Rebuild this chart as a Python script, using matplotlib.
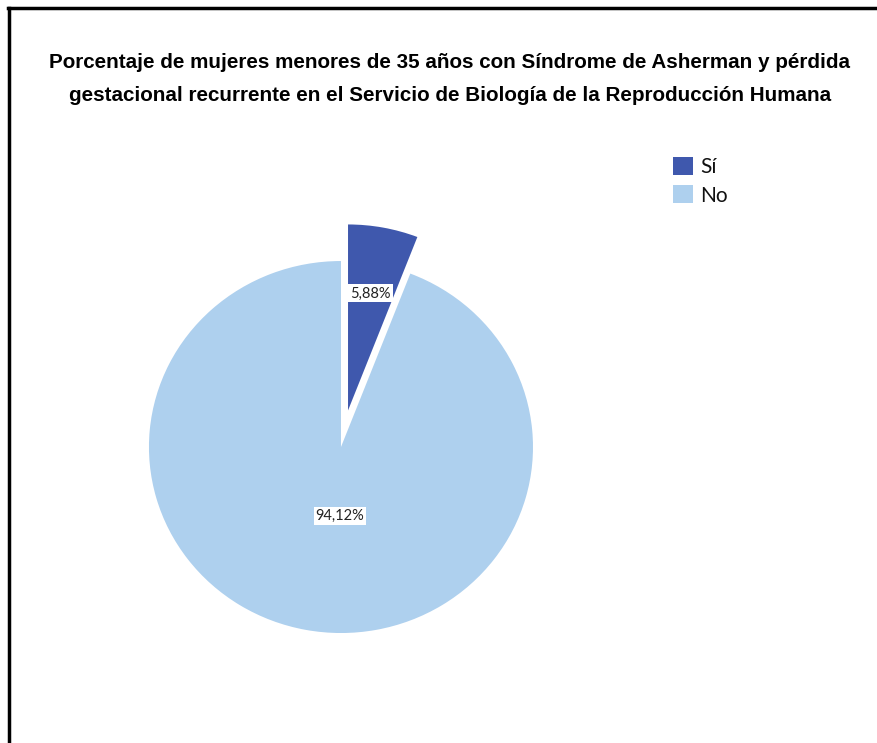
import matplotlib.pyplot as plt
from matplotlib.lines import Line2D

# Mujeres < 35 años con Síndrome de Asherman y pérdida gestacional recurrente
categories = ['Sí', 'No']
percentages = [5.88, 94.12]
colors = ['#3F58AD', '#AED0EE']

title = ('Porcentaje de mujeres menores de 35 años con Síndrome de Asherman y pérdida\n'
         'gestacional recurrente en el Servicio de Biología de la Reproducción Humana')

fig = plt.figure(figsize=(8.78, 7.43), dpi=100)
fig.patch.set_facecolor('white')

# 500x500 px axes; the pie is drawn a little flatter than round
ax = fig.add_axes([0.1036, 0.0619, 0.5695, 0.6729])

wedges, texts, autotexts = ax.pie(
    percentages, colors=colors, startangle=90, counterclock=False,
    explode=[0.20, 0], radius=1.0, pctdistance=0.64,
    autopct=lambda p: f'{p:.2f}%'.replace('.', ','),
    textprops=dict(fontsize=10.5, family='Lato', color='#222222'),
)
ax.set_aspect('auto')
ax.set_xlim(-1.302, 1.302)
ax.set_ylim(-1.344, 1.344)

# White boxes behind the percentage labels
for t in autotexts:
    t.set_bbox(dict(facecolor='white', edgecolor='none', pad=1.5))
# the big slice label sits just below the centre
autotexts[1].set_position((-0.005, -0.37))

fig.text(0.5125, 0.894, title, ha='center', va='center', fontsize=14.9,
         fontweight='bold', family='Liberation Sans', linespacing=1.95)

leg = fig.legend(wedges, categories, loc='upper left', bbox_to_anchor=(0.757, 0.80),
                 frameon=False, handlelength=0.95, handleheight=0.95,
                 handletextpad=0.35, labelspacing=0.4, borderaxespad=0,
                 prop=dict(family='Lato', size=15))
for t in leg.get_texts():
    t.set_color('#111111')

# Frame lines along the top and left edges
fig.add_artist(Line2D([8 / 878, 1.0], [1 - 8 / 743, 1 - 8 / 743],
                      transform=fig.transFigure, color='black', lw=2.5))
fig.add_artist(Line2D([9.5 / 878, 9.5 / 878], [0, 1 - 8 / 743],
                      transform=fig.transFigure, color='black', lw=2.5))

fig.savefig('out.png', dpi=100)
